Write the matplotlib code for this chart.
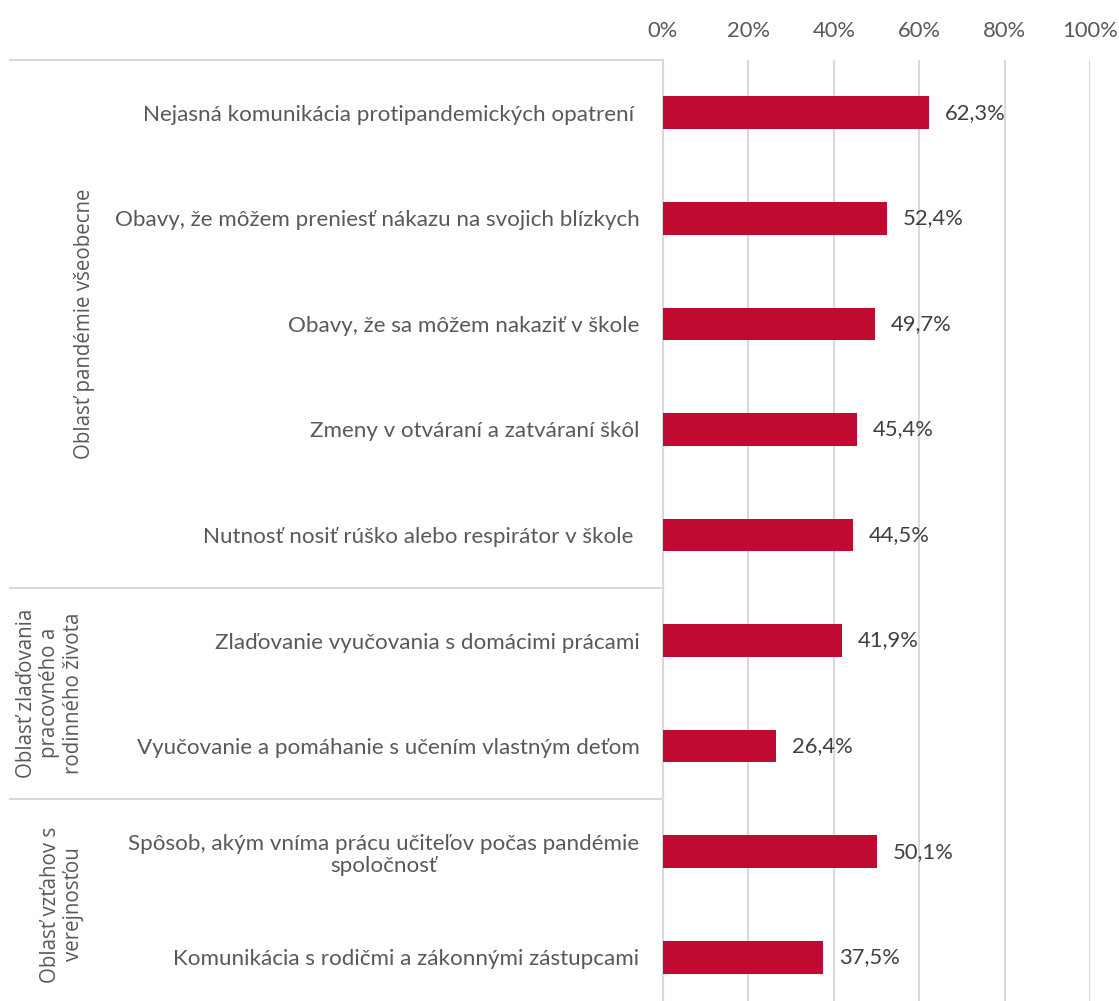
import matplotlib.pyplot as plt
import matplotlib.transforms as mtransforms

categories = [
    "Nejasná komunikácia protipandemických opatrení ",
    "Obavy, že môžem preniesť nákazu na svojich blízkych",
    "Obavy, že sa môžem nakaziť v škole",
    "Zmeny v otváraní a zatváraní škôl",
    "Nutnosť nosiť rúško alebo respirátor v škole ",
    "Zlaďovanie vyučovania s domácimi prácami",
    "Vyučovanie a pomáhanie s učením vlastným deťom",
    "Spôsob, akým vníma prácu učiteľov počas pandémie\nspoločnosť",
    "Komunikácia s rodičmi a zákonnými zástupcami",
]
values = [62.3, 52.4, 49.7, 45.4, 44.5, 41.9, 26.4, 50.1, 37.5]
groups = [
    "Oblasť pandémie všeobecne",
    "Oblasť zlaďovania\npracovného a\nrodinného života",
    "Oblasť vzťahov s\nverejnosťou",
]
group_sizes = [5, 2, 2]
ticks = [0, 20, 40, 60, 80, 100]

BAR = "#C10A32"
GRID = "#D9D9D9"
TXT = "#595959"
CAT_FONT = "Lato"
GRP_FONT = "Open Sans"

fig = plt.figure(figsize=(11.19, 10.01), dpi=100)
ax = fig.add_axes([663 / 1119, 1 - 1010 / 1001, 427 / 1119, 950 / 1001])

y = list(range(len(values)))
ax.barh(y, values, height=0.31, color=BAR, zorder=3)
for yi, v in zip(y, values):
    ax.text(v + 3.7, yi, f"{v:.1f}%".replace(".", ","), va="center", ha="left",
            fontsize=15.8, color="#404040", family=CAT_FONT)

ax.set_xlim(0, 100)
ax.set_ylim(len(values) - 0.5, -0.5)
ax.xaxis.tick_top()
ax.set_xticks(ticks)
ax.set_xticklabels([f"{t}%" for t in ticks], fontsize=15.8, color=TXT, family=CAT_FONT)
ax.tick_params(axis="x", length=0, pad=14)
ax.set_yticks(y)
ax.set_yticklabels(categories, fontsize=16.1, color=TXT, family=CAT_FONT)
for lab in ax.get_yticklabels():
    lab.set_multialignment("center")
    lab.set_linespacing(1.15)
ax.tick_params(axis="y", length=0, pad=17)

ax.grid(axis="x", color=GRID, linewidth=1.5, zorder=0)
for s in ["top", "right", "bottom"]:
    ax.spines[s].set_visible(False)
ax.spines["left"].set_color(GRID)
ax.spines["left"].set_linewidth(1.5)

trans = mtransforms.blended_transform_factory(ax.transAxes, ax.transData)
x_left = (10 - 663) / 427
# separators between groups
bounds = [-0.5]
for g in group_sizes:
    bounds.append(bounds[-1] + g)
for b in bounds[:-1]:
    ax.plot([x_left, 0], [b, b], transform=trans, color=GRID, linewidth=1.5, clip_on=False)

grp_x = [85, 50, 62]
for i, g in enumerate(groups):
    yc = (bounds[i] + bounds[i + 1]) / 2
    ax.text((grp_x[i] - 663) / 427, yc, g, transform=trans, rotation=90, ha="center", va="center",
            multialignment="center", fontsize=14.8, color=TXT, family=GRP_FONT, linespacing=1.15)

fig.savefig("out.png", dpi=100)
